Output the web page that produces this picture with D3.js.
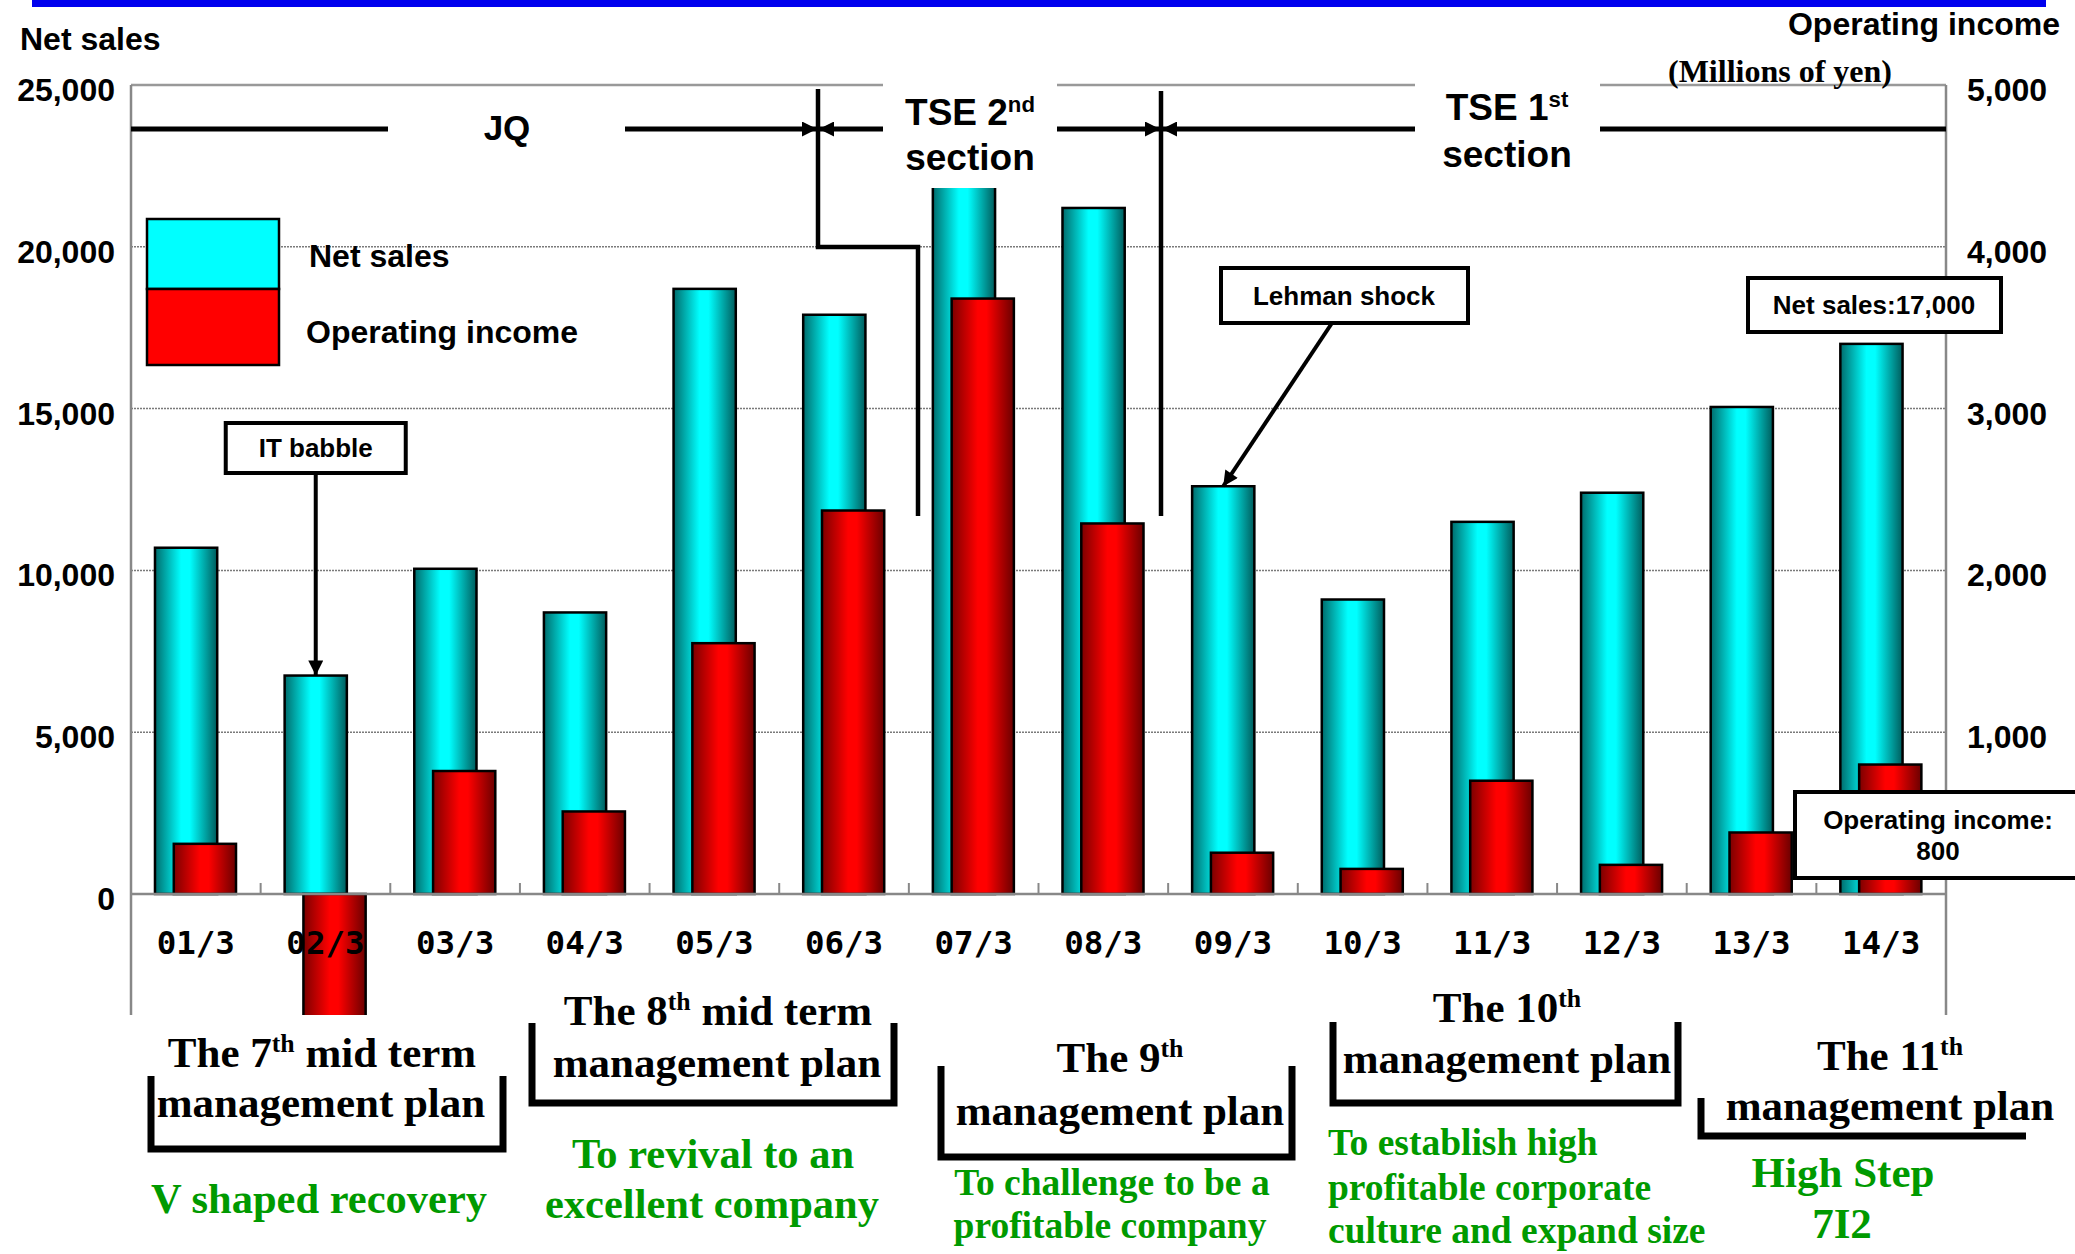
<!DOCTYPE html>
<html>
<head>
<meta charset="utf-8">
<script src="https://cdn.jsdelivr.net/npm/d3@7"></script>
<style>
  html, body { margin: 0; padding: 0; background: #fff; }
  svg { display: block; }
</style>
</head>
<body>
<svg id="chart" width="2075" height="1254"></svg>
<script>
// fiscal years (March year-end)
const categories = ['01/3', '02/3', '03/3', '04/3', '05/3', '06/3', '07/3',
                    '08/3', '09/3', '10/3', '11/3', '12/3', '13/3', '14/3'];
// millions of yen
const netSales = [10700, 6750, 10050, 8700, 18700, 17900, 23000,
                  21200, 12600, 9100, 11500, 12400, 15050, 17000];
const opIncome = [310, -900, 760, 510, 1550, 2370, 3680,
                  2290, 255, 155, 700, 180, 380, 800];
const leftTicks = [0, 5000, 10000, 15000, 20000, 25000];
const rightTicks = [1000, 2000, 3000, 4000, 5000];
const gridTicks = [5000, 10000, 15000, 20000];

const SANS = "'Liberation Sans', Arial, sans-serif";
const SERIF = "'Liberation Serif', 'Times New Roman', serif";
const GREEN = '#009a00';

const svg = d3.select('#chart');
const fmt = d3.format(',');

// plot frame
const pLeft = 131, pRight = 1946, pTop = 85, pBottom = 1015;

const x = d3.scaleBand().domain(categories).range([pLeft, pRight]);
const yL = d3.scaleLinear().domain([-3740, 25000]).range([pBottom, pTop]);
const yR = d3.scaleLinear().domain([-748, 5000]).range([pBottom, pTop]);
const bw = x.bandwidth();
const barW = bw * 0.48;
const nsX = c => x(c) + bw * 0.185;
const oiX = c => x(c) + bw * 0.33;

const defs = svg.append('defs');
function grad(id, edgeL, mid, edgeR) {
  const g = defs.append('linearGradient').attr('id', id).attr('x1', 0).attr('x2', 1).attr('y1', 0).attr('y2', 0);
  g.append('stop').attr('offset', 0).attr('stop-color', edgeL);
  g.append('stop').attr('offset', 0.42).attr('stop-color', mid);
  g.append('stop').attr('offset', 0.56).attr('stop-color', mid);
  g.append('stop').attr('offset', 1).attr('stop-color', edgeR);
}
grad('gCyan', '#006c6c', '#00ffff', '#005c5c');
grad('gRed', '#7c0000', '#ff0000', '#6a0000');

defs.append('clipPath').attr('id', 'plotClip')
  .append('rect').attr('x', pLeft).attr('y', pTop).attr('width', pRight - pLeft).attr('height', pBottom - pTop);

defs.append('marker').attr('id', 'arrow')
  .attr('viewBox', '0 0 10 10').attr('refX', 10).attr('refY', 5)
  .attr('markerUnits', 'userSpaceOnUse').attr('markerWidth', 16).attr('markerHeight', 15)
  .attr('orient', 'auto')
  .append('path').attr('d', 'M0,0 L10,5 L0,10 Z').attr('fill', '#000');

// top blue band
svg.append('rect').attr('x', 32).attr('y', 0).attr('width', 2014).attr('height', 7).attr('fill', '#0000ee');

// gridlines
svg.append('g').selectAll('line').data(gridTicks).join('line')
  .attr('x1', pLeft).attr('x2', pRight)
  .attr('y1', d => yL(d)).attr('y2', d => yL(d))
  .attr('stroke', '#7a7a7a').attr('stroke-width', 1.5).attr('stroke-dasharray', '2,1');

// top border
svg.append('line').attr('x1', pLeft).attr('x2', pRight).attr('y1', yL(25000)).attr('y2', yL(25000))
  .attr('stroke', '#999').attr('stroke-width', 2.5);

// bars
const bars = svg.append('g').attr('clip-path', 'url(#plotClip)');
bars.selectAll('rect.ns').data(categories).join('rect').attr('class', 'ns')
  .attr('x', c => nsX(c)).attr('width', barW)
  .attr('y', (c, i) => yL(Math.max(0, netSales[i])))
  .attr('height', (c, i) => Math.abs(yL(netSales[i]) - yL(0)))
  .attr('fill', 'url(#gCyan)').attr('stroke', '#000').attr('stroke-width', 2.5);
bars.selectAll('rect.oi').data(categories).join('rect').attr('class', 'oi')
  .attr('x', c => oiX(c)).attr('width', barW)
  .attr('y', (c, i) => yR(Math.max(0, opIncome[i])))
  .attr('height', (c, i) => Math.abs(yR(opIncome[i]) - yR(0)))
  .attr('fill', 'url(#gRed)').attr('stroke', '#000').attr('stroke-width', 2.5);

// axes lines
const axisG = svg.append('g').attr('stroke', '#888').attr('stroke-width', 2.5);
axisG.append('line').attr('x1', pLeft).attr('x2', pLeft).attr('y1', pTop).attr('y2', pBottom);
axisG.append('line').attr('x1', pRight).attr('x2', pRight).attr('y1', pTop).attr('y2', pBottom);
axisG.append('line').attr('x1', pLeft).attr('x2', pRight).attr('y1', yL(0)).attr('y2', yL(0));
axisG.selectAll('line.tick').data(categories.slice(1)).join('line').attr('class', 'tick')
  .attr('x1', c => x(c)).attr('x2', c => x(c))
  .attr('y1', yL(0)).attr('y2', yL(0) - 11).attr('stroke-width', 2);

// axis labels
svg.append('g').selectAll('text').data(leftTicks).join('text')
  .attr('x', 115).attr('y', d => yL(d) + 16).attr('text-anchor', 'end')
  .attr('font-family', SANS).attr('font-weight', 'bold').attr('font-size', 32)
  .text(d => fmt(d));
svg.append('g').selectAll('text').data(rightTicks).join('text')
  .attr('x', 1967).attr('y', d => yR(d) + 16).attr('text-anchor', 'start')
  .attr('font-family', SANS).attr('font-weight', 'bold').attr('font-size', 32)
  .text(d => fmt(d));
svg.append('g').selectAll('text').data(categories).join('text')
  .attr('x', c => x(c) + bw / 2).attr('y', 954).attr('text-anchor', 'middle')
  .attr('font-family', "'DejaVu Sans Mono', monospace").attr('font-weight', 'bold').attr('font-size', 32.5)
  .text(c => c);

svg.append('text').attr('x', 20).attr('y', 50)
  .attr('font-family', SANS).attr('font-weight', 'bold').attr('font-size', 32).text('Net sales');
svg.append('text').attr('x', 2060).attr('y', 35).attr('text-anchor', 'end')
  .attr('font-family', SANS).attr('font-weight', 'bold').attr('font-size', 32).text('Operating income');
svg.append('text').attr('x', 1780).attr('y', 82).attr('text-anchor', 'middle')
  .attr('font-family', SERIF).attr('font-weight', 'bold').attr('font-size', 32).text('(Millions of yen)');

// legend
const leg = svg.append('g');
leg.append('rect').attr('x', 147).attr('y', 219).attr('width', 132).attr('height', 70)
  .attr('fill', '#00ffff').attr('stroke', '#000').attr('stroke-width', 2.5);
leg.append('rect').attr('x', 147).attr('y', 289).attr('width', 132).attr('height', 76)
  .attr('fill', '#ff0000').attr('stroke', '#000').attr('stroke-width', 2.5);
leg.append('text').attr('x', 309).attr('y', 267)
  .attr('font-family', SANS).attr('font-weight', 'bold').attr('font-size', 32).text('Net sales');
leg.append('text').attr('x', 306).attr('y', 343)
  .attr('font-family', SANS).attr('font-weight', 'bold').attr('font-size', 32).text('Operating income');

// text with superscript parts: plain strings and [sup] arrays
function richText(g, px, py, parts, o) {
  const t = g.append('text').attr('x', px).attr('y', py)
    .attr('text-anchor', o.anchor || 'middle')
    .attr('font-family', o.family).attr('font-weight', 'bold')
    .attr('font-size', o.size).attr('fill', o.fill || '#000');
  let shift = 0;
  parts.forEach(p => {
    const sup = Array.isArray(p);
    const target = sup ? -o.size * 0.36 : 0;
    const s = t.append('tspan').text(sup ? p[0] : p).attr('dy', target - shift);
    if (sup) s.attr('font-size', o.size * 0.6);
    shift = target;
  });
  return t;
}

// market listing timeline
const mk = svg.append('g');
mk.append('rect').attr('x', 883).attr('y', 60).attr('width', 174).attr('height', 128).attr('fill', '#fff');
mk.append('rect').attr('x', 1415).attr('y', 60).attr('width', 185).attr('height', 115).attr('fill', '#fff');
const hy = 129;
const seg = (x1, x2, arrow) => {
  const l = mk.append('line').attr('x1', x1).attr('x2', x2).attr('y1', hy).attr('y2', hy)
    .attr('stroke', '#000').attr('stroke-width', 5);
  if (arrow) l.attr('marker-end', 'url(#arrow)');
};
seg(pLeft, 388, false);
seg(625, 817, true);
seg(883, 819, true);
seg(1057, 1160, true);
seg(1415, 1162, true);
seg(1600, pRight, false);
mk.append('path').attr('d', 'M818,89 V247 H918 V516').attr('fill', 'none')
  .attr('stroke', '#000').attr('stroke-width', 4.5);
mk.append('path').attr('d', 'M1161,91 V516').attr('fill', 'none')
  .attr('stroke', '#000').attr('stroke-width', 4.5);
mk.append('text').attr('x', 507).attr('y', 140).attr('text-anchor', 'middle')
  .attr('font-family', SANS).attr('font-weight', 'bold').attr('font-size', 35).text('JQ');
richText(mk, 970, 125, ['TSE 2', ['nd']], { family: SANS, size: 37 });
richText(mk, 970, 170, ['section'], { family: SANS, size: 37 });
richText(mk, 1507, 120, ['TSE 1', ['st']], { family: SANS, size: 37 });
richText(mk, 1507, 167, ['section'], { family: SANS, size: 37 });

// callouts
function callout(x0, y0, x1, y1, lines, size) {
  const g = svg.append('g');
  g.append('rect').attr('x', x0).attr('y', y0).attr('width', x1 - x0).attr('height', y1 - y0)
    .attr('fill', '#fff').attr('stroke', '#000').attr('stroke-width', 4);
  lines.forEach(l => g.append('text').attr('x', l[0]).attr('y', l[1]).attr('text-anchor', 'middle')
    .attr('font-family', SANS).attr('font-weight', 'bold').attr('font-size', size).text(l[2]));
  return g;
}
const itCx = nsX('02/3') + barW / 2;
svg.append('line').attr('x1', itCx).attr('x2', itCx).attr('y1', 473).attr('y2', yL(netSales[1]))
  .attr('stroke', '#000').attr('stroke-width', 4).attr('marker-end', 'url(#arrow)');
callout(itCx - 90, 423, itCx + 90, 473, [[itCx, 457, 'IT babble']], 26);

const lhX = nsX('09/3') + barW / 2;
svg.append('line').attr('x1', 1332).attr('y1', 323).attr('x2', lhX).attr('y2', yL(netSales[8]))
  .attr('stroke', '#000').attr('stroke-width', 4).attr('marker-end', 'url(#arrow)');
callout(1221, 268, 1468, 323, [[1344, 305, 'Lehman shock']], 26);

callout(1748, 278, 2001, 332, [[1874, 314, 'Net sales:' + fmt(netSales[13])]], 26);
callout(1795, 792, 2095, 878, [[1938, 829, 'Operating income:'], [1938, 860, fmt(opIncome[13])]], 26);

// management plans
const plan = svg.append('g');
const brackets = [
  'M151,1076 V1149 H503 V1076',
  'M532,1023 V1103 H894 V1023',
  'M941,1066 V1157 H1292 V1066',
  'M1333,1022 V1103 H1678 V1022',
  'M1701,1098 V1136 H2026'
];
plan.selectAll('path').data(brackets).join('path').attr('d', d => d)
  .attr('fill', 'none').attr('stroke', '#000').attr('stroke-width', 7);

const S = 43;
richText(plan, 322, 1067, ['The 7', ['th'], ' mid term'], { family: SERIF, size: S });
richText(plan, 321, 1117, ['management plan'], { family: SERIF, size: S });
richText(plan, 718, 1025, ['The 8', ['th'], ' mid term'], { family: SERIF, size: S });
richText(plan, 717, 1077, ['management plan'], { family: SERIF, size: S });
richText(plan, 1120, 1072, ['The 9', ['th']], { family: SERIF, size: S });
richText(plan, 1120, 1125, ['management plan'], { family: SERIF, size: S });
richText(plan, 1507, 1022, ['The 10', ['th']], { family: SERIF, size: S });
richText(plan, 1507, 1073, ['management plan'], { family: SERIF, size: S });
richText(plan, 1890, 1070, ['The 11', ['th']], { family: SERIF, size: S });
richText(plan, 1890, 1120, ['management plan'], { family: SERIF, size: S });

const green = (px, py, str, size, anchor) =>
  richText(plan, px, py, [str], { family: SERIF, size: size, fill: GREEN, anchor: anchor });
green(319, 1213, 'V shaped recovery', 42.5);
green(713, 1168, 'To revival to an', 42.5);
green(712, 1218, 'excellent company', 42.5);
green(1112, 1195, 'To challenge to be a', 37.5);
green(1110, 1238, 'profitable company', 37.5);
green(1328, 1155, 'To establish high', 37.5, 'start');
green(1328, 1200, 'profitable corporate', 37.5, 'start');
green(1328, 1243, 'culture and expand size', 37.5, 'start');
green(1843, 1187, 'High Step', 43);
green(1842, 1238, '7I2', 43);
</script>
</body>
</html>
